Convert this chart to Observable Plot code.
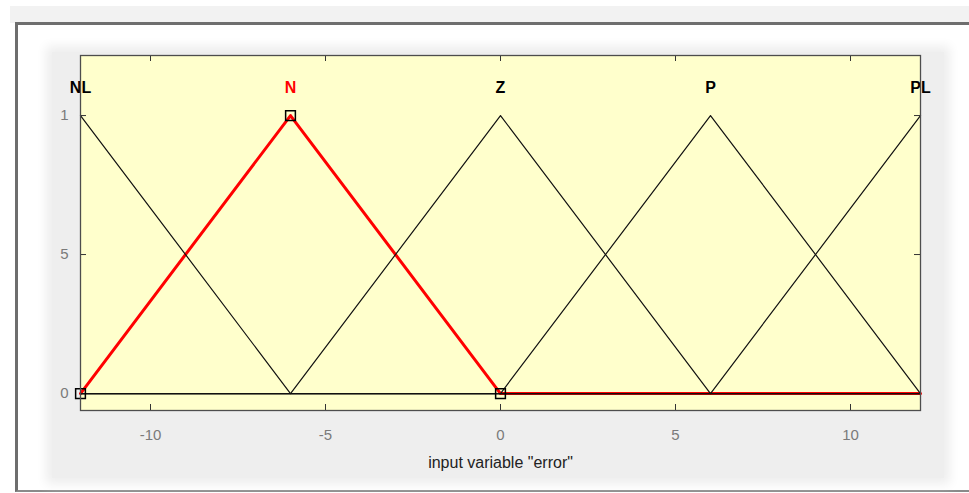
<!DOCTYPE html>
<html>
<head>
<meta charset="utf-8">
<script src="https://cdn.jsdelivr.net/npm/d3@7"></script>
<script src="https://cdn.jsdelivr.net/npm/@observablehq/plot@0.6"></script>
<style>
  html, body { margin: 0; padding: 0; background: #ffffff; }
  #stage { position: relative; width: 969px; height: 493px; overflow: hidden; font-family: "Liberation Sans", Arial, sans-serif; }
  #band { position: absolute; left: 10px; top: 6px; right: 0; height: 17px; background: #f2f2f2; }
  #window { position: absolute; left: 15px; top: 22px; width: 1000px; height: 465px;
            border-top: 3px solid #6e6e6e; border-left: 3px solid #6e6e6e; border-bottom: 2px solid #8a8a8a;
            background: #ffffff; }
  #panel { position: absolute; left: 52px; top: 52px; width: 892px; height: 426px; background: #eeeeee;
           box-shadow: 0 0 10px 6px #eeeeee; }
  #chart { position: absolute; left: 0; top: 0; }
</style>
</head>
<body>
<div id="stage">
  <div id="band"></div>
  <div id="window"></div>
  <div id="panel"></div>
  <div id="chart"></div>
</div>
<script>
// Triangular membership functions of the input variable "error"
const mfNames = ["NL", "N", "Z", "P", "PL"];
const mfA = [-18, -12, -6, 0, 6];
const mfB = [-12, -6, 0, 6, 12];
const mfC = [-6, 0, 6, 12, 18];
const mfColors = ["#000000", "#ff0000", "#000000", "#000000", "#000000"];
const selected = "N";

const xRange = [-12, 12];
const xTicks = [-10, -5, 0, 5, 10];
const xTickLabels = ["-10", "-5", "0", "5", "10"];
const yTicks = [0, 0.5, 1];
const yTickLabels = ["0", "5", "1"];
const xLabel = 'input variable "error"';

// trimf evaluated at the range ends and at each function's own breakpoints
function trimf(x, a, b, c) {
  return Math.max(0, Math.min((x - a) / (b - a), (c - x) / (c - b)));
}
const curves = mfNames.map((name, i) => {
  const xs = [xRange[0], mfA[i], mfB[i], mfC[i], xRange[1]]
    .filter(x => x >= xRange[0] && x <= xRange[1]);
  const uniq = Array.from(new Set(xs)).sort((p, q) => p - q);
  return uniq.map(x => ({name, x, y: trimf(x, mfA[i], mfB[i], mfC[i])}));
});
const sel = mfNames.indexOf(selected);
const blackRows = curves.filter((_, i) => i !== sel).flat();
const redRows = curves[sel];
// vertex handles of the selected function
const handles = [mfA[sel], mfB[sel], mfC[sel]]
  .map(x => ({x: Math.max(xRange[0], Math.min(xRange[1], x)), y: x === mfB[sel] ? 1 : 0}));

const W = 969, H = 493, mT = 55, mB = 83, mL = 80, mR = 49;
const innerH = H - mT - mB, innerW = W - mL - mR, tk = 6;

const chart = Plot.plot({
  width: W, height: H,
  marginTop: mT, marginBottom: mB, marginLeft: mL, marginRight: mR,
  style: {background: "transparent", fontFamily: "'Liberation Sans', Arial, sans-serif"},
  x: {domain: xRange},
  y: {domain: [-0.061, 1.216]},
  marks: [
    Plot.frame({fill: "#ffffcc"}),
    // inward ticks on all four sides
    Plot.ruleX(xTicks, {x: d => d, insetTop: innerH - tk, stroke: "#333", strokeWidth: 1}),
    Plot.ruleX(xTicks, {x: d => d, insetBottom: innerH - tk, stroke: "#333", strokeWidth: 1}),
    Plot.ruleY(yTicks, {y: d => d, insetRight: innerW - tk, stroke: "#333", strokeWidth: 1}),
    Plot.ruleY(yTicks, {y: d => d, insetLeft: innerW - tk, stroke: "#333", strokeWidth: 1}),
    Plot.line(redRows, {x: "x", y: "y", stroke: "#ff0000", strokeWidth: 3}),
    Plot.line(blackRows, {x: "x", y: "y", z: "name", stroke: "#111", strokeWidth: 1.2}),
    Plot.dot(handles, {x: "x", y: "y", symbol: "square", r: 5.5, stroke: "#000", strokeWidth: 1.5, fill: "none"}),
    Plot.text(mfNames, {x: (d, i) => mfB[i], y: 1.1, text: d => d, fill: (d, i) => mfColors[i],
      fontSize: 16, fontWeight: "bold"}),
    Plot.axisX(xTicks, {anchor: "bottom", tickSize: 0, tickPadding: 19, fontSize: 15, color: "#7a7a7a",
      tickFormat: (d, i) => xTickLabels[i], label: null}),
    Plot.axisY(yTicks, {anchor: "left", tickSize: 0, tickPadding: 12, fontSize: 15, color: "#7a7a7a",
      tickFormat: (d, i) => yTickLabels[i], label: null}),
    Plot.text([xLabel], {frameAnchor: "bottom", dy: 57, text: d => d, fontSize: 16, fill: "#222"}),
    Plot.frame({stroke: "#4d4d4d", strokeWidth: 1.3})
  ]
});
document.getElementById("chart").appendChild(chart);
</script>
</body>
</html>
